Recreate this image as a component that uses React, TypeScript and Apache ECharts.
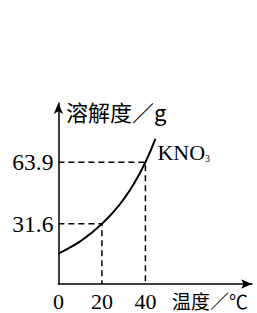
import React, { useEffect, useRef } from "react";
import * as echarts from "echarts";

const temps = [0, 5, 10, 15, 20, 25, 30, 35, 40, 44.6];
const solubility = [15.9, 18.9, 22.4, 26.6, 31.6, 37.5, 44.5, 53.2, 63.9, 76.2];
const xTicks = [0, 20, 40];
const yTicks = [31.6, 63.9];
const guide1: [number, number][] = [[0, 31.6], [20, 31.6], [20, 0]];
const guide2: [number, number][] = [[0, 63.9], [40, 63.9], [40, 0]];
const yName = "溶解度／g";
const xName = "温度／℃";
const seriesName = "KNO";

const serif = "'Liberation Serif', 'DejaVu Serif', serif";
const cjk = "'Noto Sans CJK SC', 'Noto Sans', sans-serif";

export default function App() {
  const ref = useRef<HTMLDivElement>(null);
  useEffect(() => {
    if (!ref.current) return;
    const chart = echarts.init(ref.current, undefined, { renderer: "svg" });
    const dashed = {
      type: "line" as const,
      symbol: "none",
      silent: true,
      lineStyle: { color: "#000", width: 1.5, type: [6, 4] as any },
    };
    chart.setOption({
      animation: false,
      backgroundColor: "#fff",
      grid: { left: 58.4, right: 5, top: 103, bottom: 29 },
      xAxis: {
        type: "value",
        min: 0,
        max: 89,
        splitLine: { show: false },
        axisLine: {
          show: true,
          symbol: ["none", "arrow"],
          symbolSize: [7, 11],
          lineStyle: { color: "#000", width: 1.5 },
        },
        axisTick: { show: false },
        axisLabel: {
          customValues: xTicks,
          color: "#000",
          fontFamily: serif,
          fontSize: 22,
          margin: 6,
        },
      },
      yAxis: {
        type: "value",
        min: 0,
        max: 95,
        splitLine: { show: false },
        axisLine: {
          show: true,
          symbol: ["none", "arrow"],
          symbolSize: [7, 11],
          lineStyle: { color: "#000", width: 1.5 },
        },
        axisTick: { show: false },
        axisLabel: {
          customValues: yTicks,
          color: "#000",
          fontFamily: serif,
          fontSize: 23.5,
          margin: 5,
          formatter: (v: number) => v.toFixed(1),
        },
      },
      graphic: [
        {
          type: "text",
          left: 66,
          top: 100,
          style: { text: yName, fill: "#000", font: `22px ${cjk}` },
        },
        {
          type: "text",
          x: 172,
          y: 300,
          style: {
            text: xName,
            fill: "#000",
            font: `19px ${cjk}`,
            textAlign: "left",
            textVerticalAlign: "middle",
          },
        },
      ],
      series: [
        { ...dashed, data: guide1 },
        { ...dashed, data: guide2 },
        {
          type: "line",
          smooth: true,
          symbol: "none",
          lineStyle: { color: "#000", width: 2 },
          data: temps.map((t, i) => [t, solubility[i]]),
          endLabel: {
            show: true,
            formatter: `{a|${seriesName}}{b|3}`,
            offset: [-6, 14],
            rich: {
              a: { fontFamily: serif, fontSize: 22, color: "#000" },
              b: { fontFamily: serif, fontSize: 10, color: "#000", verticalAlign: "bottom", padding: [10, 0, 0, 0] },
            },
          },
        },
      ],
    });
    return () => chart.dispose();
  }, []);
  return (
    <div
      ref={ref}
      style={{ position: "fixed", left: 0, top: 0, width: 257, height: 313 }}
    />
  );
}
